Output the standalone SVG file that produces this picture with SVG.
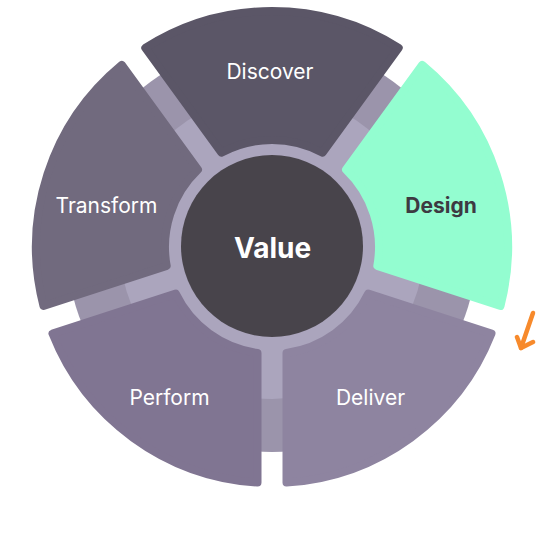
<svg xmlns="http://www.w3.org/2000/svg" width="536" height="536" viewBox="0 0 536 536">
<style>
.seg{stroke-width:8;stroke-linejoin:round}
.lbl{font-family:Inter,"Noto Sans","Liberation Sans",sans-serif;font-size:21px;fill:#ffffff;text-anchor:middle}
.bold{font-weight:700}
</style>
<rect width="536" height="536" fill="#ffffff"/>
<g id="background">
<circle cx="272" cy="247" r="205" fill="#9b94ab"/>
<circle cx="272" cy="247" r="152" fill="#aba5bd"/>
</g>
<g id="discover">
<path class="seg" fill="#5b5667" stroke="#5b5667" d="M145.3,47.9 A236,236 0 0 1 398.7,47.9 L322.6,152.7 A107,107 0 0 0 221.4,152.7 Z"/>
<text class="lbl" x="270" y="79">Discover</text>
</g>
<g id="design">
<path class="seg" fill="#93fdd0" stroke="#93fdd0" d="M422.2,64.9 A236,236 0 0 1 500.5,306 L377.3,266 A107,107 0 0 0 346,169.7 Z"/>
<text class="lbl bold" x="441" y="213" style="fill:#3d3a42">Design</text>
</g>
<g id="deliver">
<path class="seg" fill="#8e84a0" stroke="#8e84a0" d="M491.5,333.6 A236,236 0 0 1 286.5,482.6 L286.5,353 A107,107 0 0 0 368.3,293.6 Z"/>
<text class="lbl" x="370.5" y="405">Deliver</text>
</g>
<g id="perform">
<path class="seg" fill="#807592" stroke="#807592" d="M257.5,482.6 A236,236 0 0 1 52.5,333.6 L175.7,293.6 A107,107 0 0 0 257.5,353 Z"/>
<text class="lbl" x="169.5" y="405">Perform</text>
</g>
<g id="transform">
<path class="seg" fill="#716a7e" stroke="#716a7e" d="M43.5,306 A236,236 0 0 1 121.8,64.9 L198,169.7 A107,107 0 0 0 166.7,266 Z"/>
<text class="lbl" x="106.5" y="213">Transform</text>
</g>
<g id="value">
<circle cx="272" cy="246" r="91" fill="#48444b"/>
<text class="lbl bold" x="272.5" y="258" style="font-size:28px">Value</text>
</g>
<g id="connectors" fill="none" stroke="#f78a2c" stroke-width="4.5" stroke-linecap="round" stroke-linejoin="round">
<path d="M533,313 L521,348"/>
<path d="M517,337 L521,348 L533,342"/>
</g>
</svg>
